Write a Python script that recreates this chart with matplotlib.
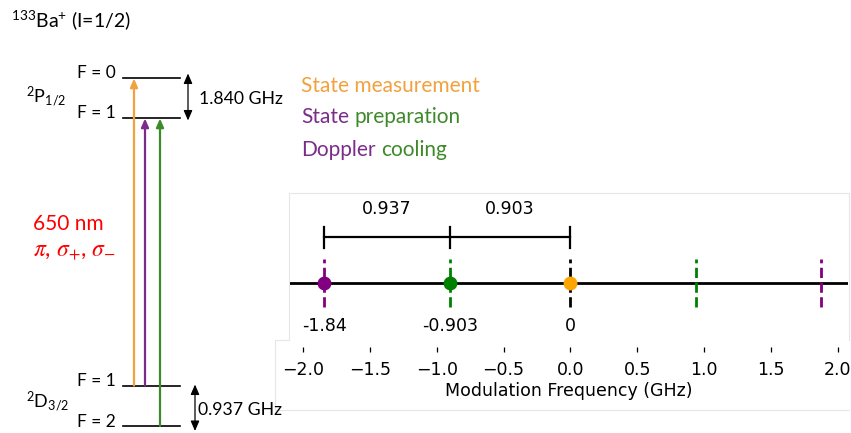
import matplotlib
matplotlib.use("Agg")
import matplotlib.pyplot as plt

# hyperfine splittings (GHz)
split_p = 1.840
split_d = 0.937

# sideband markers on the modulation axis
dot_pos = [-1.84, -0.903, 0.0]
dot_labels = ["-1.84", "-0.903", "0"]
dot_colors = ["purple", "green", "orange"]
line_pos = [-1.84, -0.903, 0.0, 0.937, 1.874]
line_colors = ["purple", "green", "black", "green", "purple"]
gap_labels = ["0.937", "0.903"]

# level diagram, laid out in pixel units
levels_y = {"P0": 77.5, "P1": 117.5, "D1": 385.5, "D2": 426}
level_x = (123, 180)
beams = [  # x, from level, to level, colour
    (134, "D1", "P0", "#F2A13F"),
    (145, "D1", "P1", "#7B2C8A"),
    (160, "D2", "P1", "#3E8A2B"),
]

c_orange = "#F2A13F"
c_purple = "#7B2C8A"
c_green = "#3E8A2B"

plt.rcParams["mathtext.fontset"] = "custom"
plt.rcParams["mathtext.rm"] = "Lato"
plt.rcParams["mathtext.it"] = "Lato:italic"
plt.rcParams["mathtext.bf"] = "Lato:bold"

W, H = 851, 433
fig = plt.figure(figsize=(W / 100, H / 100), dpi=100)

diag = fig.add_axes([0, 0, 1, 1])
diag.set_xlim(0, W)
diag.set_ylim(H, 0)
diag.axis("off")

lato = dict(family="Lato", color="black")

diag.text(11, 20, r"$^{133}$Ba$^{+}$ (I=1/2)", fontsize=14, va="center", **lato)

for key, y in levels_y.items():
    diag.plot(level_x, [y, y], color="black", lw=1.2)
for key, lab in [("P0", "F = 0"), ("P1", "F = 1"), ("D1", "F = 1"), ("D2", "F = 2")]:
    diag.text(116, levels_y[key] - 4, lab, fontsize=12.5, ha="right", va="center", **lato)

diag.text(26, 97, r"$^{2}$P$_{1/2}$", fontsize=13, va="center", **lato)
diag.text(26, 402, r"$^{2}$D$_{3/2}$", fontsize=13, va="center", **lato)

for x, lo, hi, col in beams:
    diag.annotate("", xy=(x, levels_y[hi] + 1), xytext=(x, levels_y[lo]),
                  arrowprops=dict(arrowstyle="-|>,head_length=0.5,head_width=0.22",
                                  color=col, lw=1.6, shrinkA=0, shrinkB=0))

# splitting arrows
diag.annotate("", xy=(188, levels_y["P0"] - 4), xytext=(188, levels_y["P1"] + 3),
              arrowprops=dict(arrowstyle="<|-|>,head_length=0.6,head_width=0.26",
                              color="black", lw=0.9, shrinkA=0, shrinkB=0))
diag.text(199, 99, f"{split_p:.3f} GHz", fontsize=12.7, va="center", **lato)
diag.annotate("", xy=(195, levels_y["D1"] - 1), xytext=(195, levels_y["D2"] + 5),
              arrowprops=dict(arrowstyle="<|-|>,head_length=0.6,head_width=0.26",
                              color="black", lw=0.9, shrinkA=0, shrinkB=0))
diag.text(198, 410, f"{split_d:.3f} GHz", fontsize=12.7, va="center", **lato)

diag.text(33, 224, "650 nm", fontsize=15, color="red", family="Lato", va="center")
diag.text(33, 251, r"$\pi$, $\sigma_{+}$, $\sigma_{-}$", fontsize=17, color="red",
          family="Lato", va="center", math_fontfamily="stix")

# beam legend
t1 = diag.text(301, 86, "State measurement", fontsize=15, color=c_orange,
               family="Lato", va="center")
t2 = diag.text(301, 117, "State", fontsize=15, color=c_purple, family="Lato", va="center")
diag.annotate("preparation", xy=(1, 0), xycoords=t2, xytext=(4, 0),
              textcoords="offset points", fontsize=15, color=c_green,
              family="Lato", va="bottom")
t3 = diag.text(301, 150, "Doppler", fontsize=15, color=c_purple, family="Lato", va="center")
diag.annotate("cooling", xy=(1, 0), xycoords=t3, xytext=(4, 0),
              textcoords="offset points", fontsize=15, color=c_green,
              family="Lato", va="bottom")

# faint outline around the spectrum panel
frame = "#e6e6e6"
diag.plot([289, 849, 849], [193, 193, 340], color=frame, lw=0.8)
diag.plot([289, 289, 275, 275, 849], [193, 340, 340, 410, 410], color=frame, lw=0.8)

# spectrum panel
x0, x1 = 290, 848
y_top, y_bot = 193, 347
ax = fig.add_axes([x0 / W, (H - y_bot) / H, (x1 - x0) / W, (y_bot - y_top) / H])
ax.patch.set_alpha(0)
ax.set_xlim(-2.097, 2.075)
ax.set_ylim(-2.667, 3.75)
for s in ax.spines.values():
    s.set_visible(False)
ax.set_yticks([])
ax.set_xticks([-2.0, -1.5, -1.0, -0.5, 0.0, 0.5, 1.0, 1.5, 2.0])
ax.tick_params(axis="x", length=3.6, width=0.9, pad=6.5, labelsize=12.5)
ax.set_xlabel("Modulation Frequency (GHz)", fontsize=12.5, labelpad=2)

ax.axhline(0, color="black", lw=2)
for x, c in zip(line_pos, line_colors):
    ax.plot([x, x], [-1, 1], color=c, ls="--", lw=2)
for x, c, lab in zip(dot_pos, dot_colors, dot_labels):
    ax.plot(x, 0, "o", color=c, ms=9, zorder=5)
    ax.text(x, -1.79, lab, ha="center", va="center", fontsize=12.5)

# spacing bracket between the sidebands
ax.plot([dot_pos[0], dot_pos[-1]], [1.9, 1.9], color="black", lw=1.6)
for x in dot_pos:
    ax.plot([x, x], [1.46, 2.34], color="black", lw=1.6)
for i, lab in enumerate(gap_labels):
    ax.text((dot_pos[i] + dot_pos[i + 1]) / 2, 3.08, lab, ha="center", va="center",
            fontsize=12.5)

fig.savefig("out.png", dpi=100)
